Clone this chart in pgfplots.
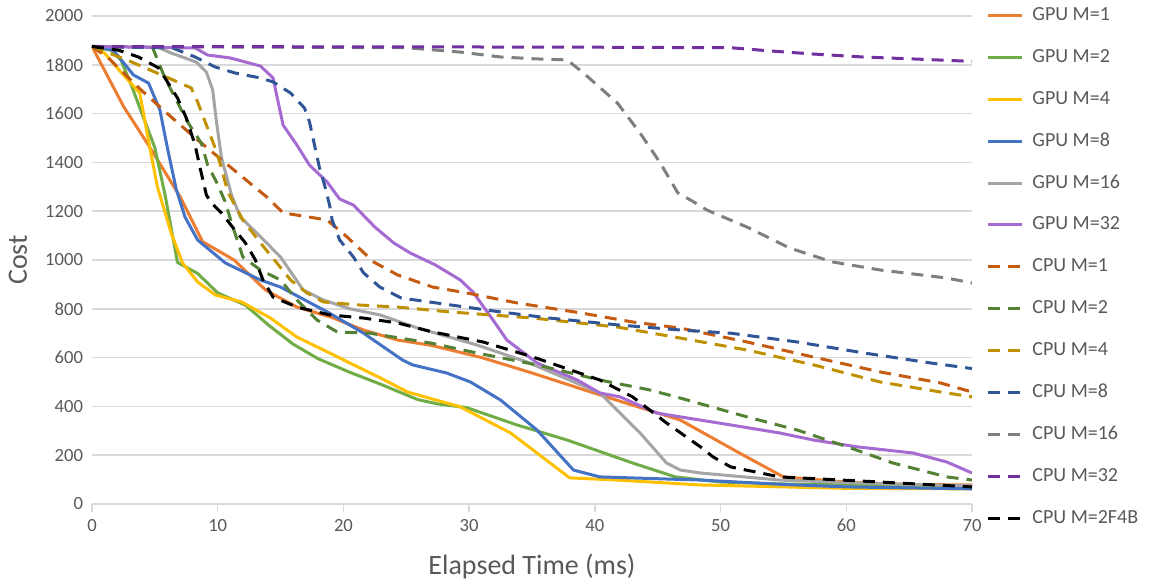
\documentclass[border=0pt]{standalone}
\usepackage{fontspec}
\setmainfont{Carlito}
\usepackage{pgfplots}
\pgfplotsset{compat=1.18}
\definecolor{gridgray}{HTML}{D9D9D9}
\definecolor{labelgray}{HTML}{595959}
\definecolor{ca}{HTML}{ED7D31}
\definecolor{cb}{HTML}{70AD47}
\definecolor{cc}{HTML}{FFC000}
\definecolor{cd}{HTML}{4472C4}
\definecolor{ce}{HTML}{A5A5A5}
\definecolor{cf}{HTML}{A66BD3}
\definecolor{cg}{HTML}{C55A11}
\definecolor{ch}{HTML}{548235}
\definecolor{ci}{HTML}{BF9000}
\definecolor{cj}{HTML}{2F5597}
\definecolor{ck}{HTML}{7F7F7F}
\definecolor{cl}{HTML}{7030A0}
\begin{document}
\begin{tikzpicture}[x=1pt,y=1pt]
\useasboundingbox (-46,-38.5) rectangle (541.5,252);
\begin{axis}[
  at={(0,0)}, anchor=south west,
  scale only axis, width=440pt, height=244pt,
  xmin=0, xmax=70, ymin=0, ymax=2000,
  xtick={0,10,...,70}, ytick={0,200,...,2000},
  ymajorgrids, grid style={gridgray, line width=0.75pt},
  axis lines*=left, axis line style={-},
  x axis line style={gridgray, line width=0.75pt},
  y axis line style={draw=none},
  tick align=outside, major tick length=4pt,
  xtick style={gridgray, line width=0.75pt},
  ytick style={draw=none},
  /pgf/number format/assume math mode=true,
  /pgf/number format/1000 sep={},
  tick label style={font=\fontsize{9.3}{11}\selectfont, text=labelgray},
  yticklabel style={xshift=3pt},
  xlabel={Elapsed Time (ms)}, ylabel={Cost},
  label style={font=\fontsize{14}{16}\selectfont, text=labelgray},
  xlabel style={at={([yshift=-31.5pt]axis description cs:0.5,0)}, anchor=center},
  ylabel style={at={([xshift=-37pt]axis description cs:0,0.5)}, anchor=center},
  legend cell align=left,
  legend image code/.code={\draw[#1] (0pt,0pt) -- (17pt,0pt); \path (21.5pt,0pt);},
  legend style={draw=none, fill=none, at={([xshift=7pt,yshift=5pt]axis description cs:1,1)}, anchor=north west,
    font=\fontsize{10}{12}\selectfont, text=labelgray, row sep=11.96pt, inner sep=0pt,
    nodes={inner sep=0pt, text height=7pt, text depth=2pt}},
  every axis plot/.append style={line width=1.5pt, line join=round},
  dsh/.style={dash pattern=on 6pt off 4pt},
]
\addplot[ca] coordinates {(0,1875) (2.5,1630) (4.5,1470) (7,1260) (8.8,1075) (11.3,1000) (13.8,877) (16.3,807) (19,766) (21.6,713) (24.3,672) (27,650) (31,600) (35,537) (40.4,447) (46.8,344) (51.5,209) (55,111) (60,90) (65,80) (70,78)};
\addlegendentry{GPU M=1}
\addplot[cb] coordinates {(0,1875) (1.5,1860) (2.3,1820) (3.1,1720) (5,1460) (5.8,1270) (6.8,990) (8.4,945) (10,865) (12.2,815) (14,735) (16,655) (18,595) (20.5,540) (23,490) (25.9,428) (27.5,410) (29.8,395) (33.8,324) (37.8,262) (43,168) (46.4,111) (50,90) (55,82) (60,78) (65,75) (70,72)};
\addlegendentry{GPU M=2}
\addplot[cc] coordinates {(0,1875) (1,1848) (2.3,1770) (3.8,1684) (4.6,1460) (5.2,1300) (6.3,1110) (7.2,988) (8.4,910) (9.8,857) (11.9,828) (14.2,762) (16.3,684) (18.9,619) (20.5,578) (23,515) (25.1,459) (29.3,398) (33.3,291) (38,107) (41.8,98) (48.4,78) (55,70) (60,64) (70,62)};
\addlegendentry{GPU M=4}
\addplot[cd] coordinates {(0,1875) (1.7,1860) (3.3,1758) (4.5,1725) (5.4,1615) (6,1459) (6.7,1290) (7.4,1176) (8.4,1082) (10.6,988) (13.4,918) (15,889) (18.9,782) (21.6,700) (24.7,590) (25.5,570) (28.2,537) (30.1,500) (32.5,426) (35.4,303) (38.3,139) (40.4,111) (48.4,98) (55,80) (60,70) (70,62)};
\addlegendentry{GPU M=8}
\addplot[ce] coordinates {(0,1875) (5.2,1873) (6.3,1848) (7.4,1828) (8.3,1811) (9.1,1770) (9.6,1697) (9.9,1566) (10.3,1420) (11.1,1266) (11.8,1176) (13.1,1111) (15,1012) (16.8,877) (18.4,836) (20.5,800) (22.9,775) (25.9,721) (30.6,652) (34.6,582) (40.4,455) (43.6,291) (45.7,168) (46.8,139) (48.4,127) (54.7,98) (60,88) (65,80) (70,75)};
\addlegendentry{GPU M=16}
\addplot[cf] coordinates {(0,1875) (8.2,1869) (9.2,1840) (11,1828) (13.4,1795) (14.4,1746) (15.2,1553) (16.3,1471) (17.3,1389) (18.7,1320) (19.7,1250) (20.8,1225) (22.5,1135) (24,1070) (25.3,1029) (27.3,980) (29.3,918) (30.3,869) (31.9,754) (33,672) (35.4,578) (38.6,508) (40.4,455) (42,439) (44.9,373) (46.8,357) (50.8,324) (54.7,291) (57.4,262) (60.9,234) (65.3,209) (68,172) (70,127)};
\addlegendentry{GPU M=32}
\addplot[cg,dsh] coordinates {(0,1875) (1.3,1828) (3.9,1697) (6.3,1586) (8.4,1492) (11.1,1377) (14,1254) (15.2,1193) (16.3,1184) (18.7,1164) (20.3,1094) (22.4,992) (24.3,939) (27.1,889) (29.8,865) (33.8,824) (39,782) (43,746) (46.8,721) (52.1,664) (57.4,602) (62.7,541) (67.5,496) (70,459)};
\addlegendentry{CPU M=1}
\addplot[ch,dsh] coordinates {(0,1875) (4.8,1873) (5.8,1746) (6.7,1656) (7.6,1566) (8.7,1479) (9.2,1389) (9.9,1320) (10.6,1238) (11.1,1152) (12,1012) (13.4,959) (15,918) (16.3,836) (17.9,754) (19.5,705) (22.1,700) (26.9,660) (30.6,619) (35.4,570) (40.4,508) (44.4,467) (46.8,434) (52.1,357) (56.1,303) (60.1,234) (63.7,168) (68,111) (70,98)};
\addlegendentry{CPU M=2}
\addplot[ci,dsh] coordinates {(0,1875) (3,1815) (5.9,1750) (7.9,1705) (8.4,1648) (9.1,1553) (9.8,1459) (10.3,1377) (10.8,1279) (12,1164) (13.4,1070) (14.7,988) (15.8,918) (17.1,865) (18.4,828) (21.1,816) (24.3,807) (28.5,787) (35.1,762) (41.8,725) (46.8,680) (52.1,631) (57.4,570) (62.7,500) (67.5,459) (70,439)};
\addlegendentry{CPU M=4}
\addplot[cj,dsh] coordinates {(0,1875) (6.4,1869) (8.2,1832) (9.8,1791) (11.4,1766) (13.4,1746) (14.4,1730) (15.8,1684) (16.9,1623) (17.3,1566) (17.7,1471) (18.1,1377) (18.5,1307) (18.9,1225) (19.1,1164) (19.7,1082) (20.8,1012) (21.6,947) (22.9,889) (24.6,844) (28.5,816) (32.5,787) (36.4,762) (41.8,734) (46.8,713) (50.8,700) (56.1,664) (61.4,619) (66.7,578) (70,555)};
\addlegendentry{CPU M=8}
\addplot[ck,dsh] coordinates {(0,1875) (25,1870) (29.3,1852) (32.5,1832) (35.4,1824) (37.8,1820) (39.1,1766) (41.8,1643) (43.6,1520) (45.2,1398) (46.6,1275) (47.8,1240) (48.9,1205) (52.1,1135) (55.5,1049) (58.9,992) (62.7,959) (68,926) (70,906)};
\addlegendentry{CPU M=16}
\addplot[cl,dsh] coordinates {(0,1875) (30,1873) (40,1872) (50.8,1870) (53.9,1857) (57.4,1844) (61.3,1832) (65.3,1824) (70,1814)};
\addlegendentry{CPU M=32}
\addplot[black,dsh] coordinates {(0,1875) (2.1,1860) (3.7,1832) (5.3,1787) (6,1730) (6.8,1664) (7.5,1582) (8.2,1471) (8.6,1377) (9.1,1266) (9.5,1234) (10.3,1193) (11.1,1140) (12.2,1070) (13,1000) (13.6,918) (14.4,848) (16.3,807) (18.9,775) (21.6,762) (24.3,742) (27.1,705) (31.1,664) (35.1,602) (40.4,508) (43,439) (45.7,332) (48.4,234) (49.4,193) (50.8,152) (54.7,111) (62.7,90) (70,70)};
\addlegendentry{CPU M=2F4B}
\end{axis}
\end{tikzpicture}
\end{document}
